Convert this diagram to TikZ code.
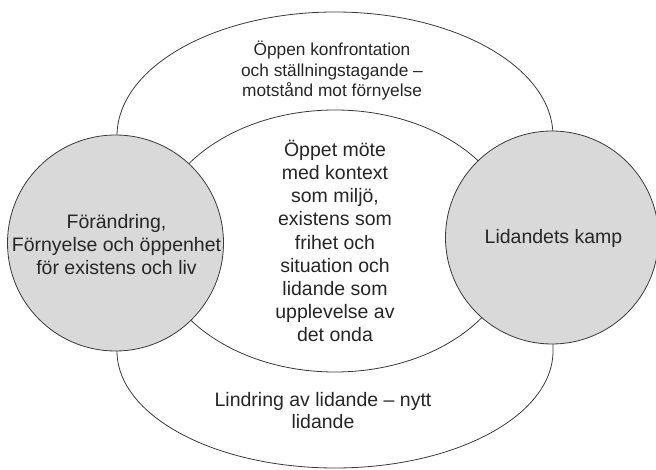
\documentclass[tikz,border=0pt]{standalone}
\usepackage{fontspec}
\setmainfont{Liberation Sans}
\definecolor{linegray}{HTML}{3A3A3A}
\definecolor{discgray}{HTML}{D9D9D9}
\definecolor{txtgray}{HTML}{262626}
\tikzset{
  outline/.style={draw=linegray, line width=0.8pt},
  disc/.style={outline, fill=discgray},
  label/.style={align=center, inner sep=0pt, text=txtgray},
  bigtext/.style={label, font=\fontsize{19.5}{23}\selectfont},
  smalltext/.style={label, font=\fontsize{17.3}{20.5}\selectfont},
}
\begin{document}
\begin{tikzpicture}[x=1pt, y=1pt]
  \useasboundingbox (0,0) rectangle (656,469);

  % outer band: upper and lower half-ellipses joined behind the discs
  \draw[outline] (553,118) -- (553,333)
    arc[start angle=0, end angle=180, x radius=218, y radius=124]
    -- (117,118)
    arc[start angle=180, end angle=360, x radius=218, y radius=117]
    -- cycle;

  % inner ellipse
  \draw[outline, fill=white] (335,228) ellipse[x radius=181, y radius=131];

  % the two discs
  \draw[disc] (115.5,226) circle[radius=108];
  \draw[disc] (552,231.5) circle[radius=106.5];

  % texts
  \node[bigtext] (change) at (116.5,224)
    {Förändring,\\Förnyelse och öppenhet\\för existens och liv};
  \node[bigtext] (struggle) at (553.5,231) {Lidandets kamp};
  \node[bigtext, font=\fontsize{19.5}{23.2}\selectfont] (meeting) at (335,228)
    {Öppet möte\\med kontext\\som miljö,\\existens som\\frihet och\\situation och\\lidande som\\upplevelse av\\det onda};
  \node[smalltext] (confront) at (332,398)
    {Öppen konfrontation\\och ställningstagande –\\motstånd mot förnyelse};
  \node[bigtext, font=\fontsize{19.5}{22}\selectfont] (relief) at (323,58)
    {Lindring av lidande – nytt\\lidande};
\end{tikzpicture}
\end{document}
